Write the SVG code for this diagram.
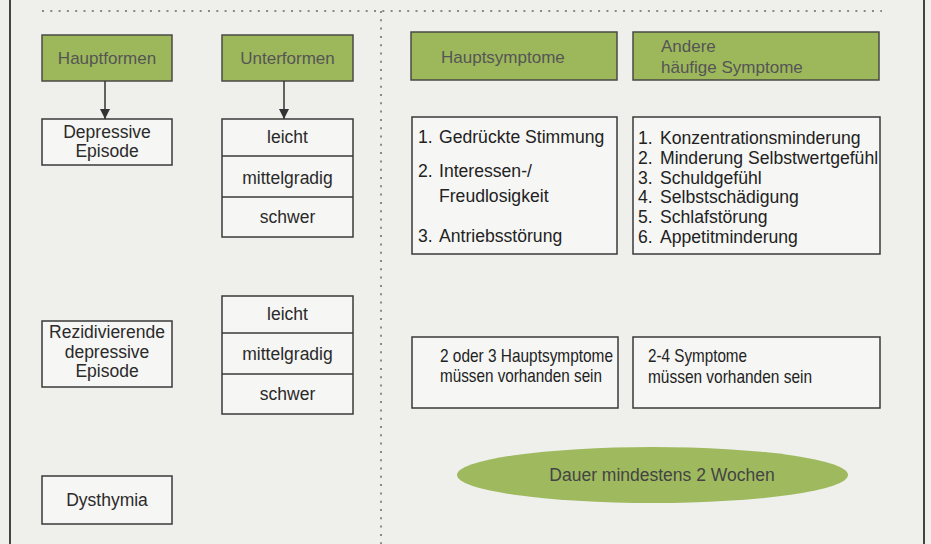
<svg xmlns="http://www.w3.org/2000/svg" width="931" height="544" viewBox="0 0 931 544">
<defs>
<style>
.bg{fill:#efefec}
.green{fill:#9db85b;stroke:#4a4a44;stroke-width:1.5}
.box{fill:#f6f6f4;stroke:#3a3a3a;stroke-width:1.5}
.div{stroke:#3a3a3a;stroke-width:1.5}
.hdr{font-family:"Liberation Sans",Arial,sans-serif;font-size:17px;fill:#555}
.t{font-family:"Liberation Sans",Arial,sans-serif;font-size:17.5px;fill:#2a2a2a}
.l{font-family:"Liberation Sans",Arial,sans-serif;font-size:17.6px;fill:#222}
.n{font-family:"Liberation Sans",Arial,sans-serif;font-size:18.5px;fill:#222}
.dot{stroke:#8a8a8a;stroke-width:2;stroke-dasharray:2 6.3;fill:none}
.edge{stroke:#333;stroke-width:1.5;fill:none}
</style>
<marker id="arr" viewBox="0 0 10 10" refX="10" refY="5" markerWidth="10" markerHeight="10" markerUnits="userSpaceOnUse" orient="auto">
<path d="M0,0 L10,5 L0,10 z" fill="#333"/>
</marker>
</defs>
<rect class="bg" x="0" y="0" width="931" height="544"/>
<line x1="10" y1="0" x2="10" y2="544" stroke="#444" stroke-width="2"/>
<line x1="924" y1="0" x2="924" y2="544" stroke="#444" stroke-width="2"/>
<line class="dot" x1="42" y1="11" x2="882" y2="11"/>
<line class="dot" x1="381" y1="11" x2="381" y2="544"/>

<g id="hauptformen">
<rect class="green" x="42" y="35" width="130" height="46"/>
<text class="hdr" x="107" y="64" text-anchor="middle">Hauptformen</text>
</g>
<g id="unterformen">
<rect class="green" x="222" y="35" width="131" height="46"/>
<text class="hdr" x="287.5" y="64" text-anchor="middle">Unterformen</text>
</g>
<g id="depressive-episode">
<rect class="box" x="42" y="119" width="130" height="46"/>
<text class="t" x="107" y="138" text-anchor="middle">Depressive</text>
<text class="t" x="107" y="157" text-anchor="middle">Episode</text>
</g>
<g id="schweregrade-1">
<rect class="box" x="222" y="119" width="131" height="118"/>
<line class="div" x1="222" y1="156" x2="353" y2="156"/>
<line class="div" x1="222" y1="197" x2="353" y2="197"/>
<text class="t" x="287.5" y="143" text-anchor="middle">leicht</text>
<text class="t" x="287.5" y="184" text-anchor="middle">mittelgradig</text>
<text class="t" x="287.5" y="223" text-anchor="middle">schwer</text>
</g>
<g id="rezidivierende">
<rect class="box" x="42" y="321" width="130" height="66"/>
<text class="t" x="107" y="338" text-anchor="middle">Rezidivierende</text>
<text class="t" x="107" y="358" text-anchor="middle">depressive</text>
<text class="t" x="107" y="377" text-anchor="middle">Episode</text>
</g>
<g id="schweregrade-2">
<rect class="box" x="222" y="296" width="131" height="118"/>
<line class="div" x1="222" y1="333" x2="353" y2="333"/>
<line class="div" x1="222" y1="374" x2="353" y2="374"/>
<text class="t" x="287.5" y="320" text-anchor="middle">leicht</text>
<text class="t" x="287.5" y="360" text-anchor="middle">mittelgradig</text>
<text class="t" x="287.5" y="400" text-anchor="middle">schwer</text>
</g>
<g id="dysthymia">
<rect class="box" x="42" y="476" width="130" height="48"/>
<text class="t" x="107" y="506" text-anchor="middle">Dysthymia</text>
</g>

<g id="hauptsymptome">
<rect class="green" x="411" y="32" width="206" height="48"/>
<text class="hdr" x="441" y="63">Hauptsymptome</text>
</g>
<g id="andere">
<rect class="green" x="633" y="32" width="246" height="48"/>
<text class="hdr" x="661" y="52">Andere</text>
<text class="hdr" x="661" y="73">häufige Symptome</text>
</g>
<g id="hauptsymptome-liste">
<rect class="box" x="412" y="117" width="205" height="137"/>
<text class="l" x="418" y="143">1.</text><text class="l" x="439" y="143">Gedrückte Stimmung</text>
<text class="l" x="418" y="177">2.</text><text class="l" x="439" y="177">Interessen-/</text>
<text class="l" x="439" y="202">Freudlosigkeit</text>
<text class="l" x="418" y="242">3.</text><text class="l" x="439" y="242">Antriebsstörung</text>
</g>
<g id="andere-liste">
<rect class="box" x="633" y="117" width="247" height="137"/>
<text class="l" x="638" y="144">1.</text><text class="l" x="660" y="144">Konzentrationsminderung</text>
<text class="l" x="638" y="164">2.</text><text class="l" x="660" y="164">Minderung Selbstwertgefühl</text>
<text class="l" x="638" y="184">3.</text><text class="l" x="660" y="184">Schuldgefühl</text>
<text class="l" x="638" y="203">4.</text><text class="l" x="660" y="203">Selbstschädigung</text>
<text class="l" x="638" y="223">5.</text><text class="l" x="660" y="223">Schlafstörung</text>
<text class="l" x="638" y="243">6.</text><text class="l" x="660" y="243">Appetitminderung</text>
</g>
<g id="bedingung-haupt">
<rect class="box" x="412" y="337" width="206" height="71"/>
<text class="n" x="440" y="362" textLength="173" lengthAdjust="spacingAndGlyphs">2 oder 3 Hauptsymptome</text>
<text class="n" x="440" y="382" textLength="162" lengthAdjust="spacingAndGlyphs">müssen vorhanden sein</text>
</g>
<g id="bedingung-andere">
<rect class="box" x="633" y="337" width="247" height="71"/>
<text class="n" x="648" y="362" textLength="99" lengthAdjust="spacingAndGlyphs">2-4 Symptome</text>
<text class="n" x="648" y="383" textLength="164" lengthAdjust="spacingAndGlyphs">müssen vorhanden sein</text>
</g>
<g id="dauer">
<ellipse cx="652.5" cy="475" rx="195.5" ry="28" fill="#9fba5e"/>
<text class="hdr" x="662" y="481" text-anchor="middle" style="fill:#444;font-size:17.5px">Dauer mindestens 2 Wochen</text>
</g>

<g id="connectors">
<line class="edge" x1="105" y1="81" x2="105" y2="119" marker-end="url(#arr)"/>
<line class="edge" x1="284" y1="81" x2="284" y2="119" marker-end="url(#arr)"/>
</g>
</svg>
